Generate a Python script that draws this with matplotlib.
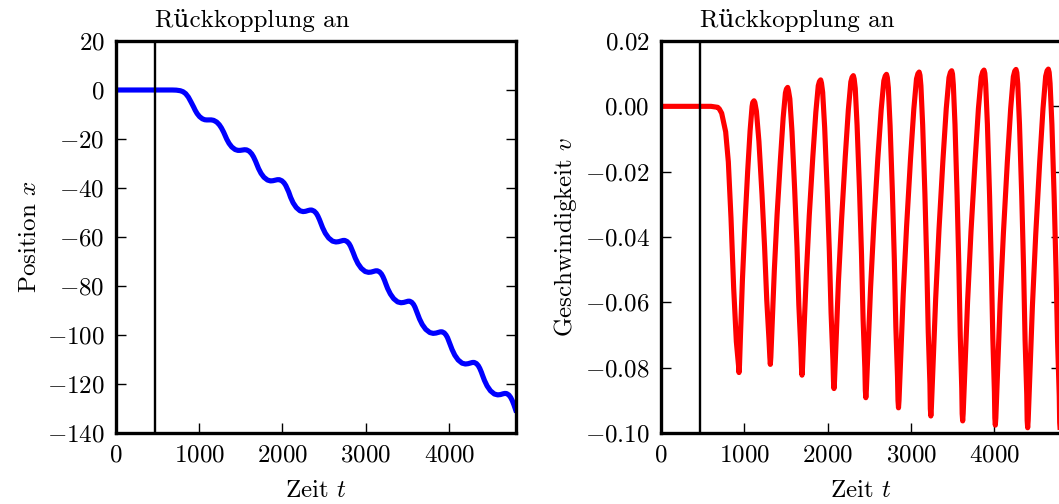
import numpy as np
import matplotlib
matplotlib.use("Agg")
import matplotlib.pyplot as plt
import matplotlib.transforms as mtransforms

plt.rcParams['font.family'] = ['cmr10', 'DejaVu Serif']
plt.rcParams['mathtext.fontset'] = 'cm'
plt.rcParams['axes.formatter.use_mathtext'] = True
plt.rcParams['axes.unicode_minus'] = True
plt.rcParams['font.size'] = 18

# Position x ueber der Zeit
t_pos = [0, 600, 680, 728, 776, 808, 840, 872, 904,
         936, 954, 977, 1006, 1040, 1069, 1093,
         1116, 1145, 1175, 1212, 1243, 1269, 1296,
         1312, 1333, 1360, 1393, 1433, 1466, 1493,
         1520, 1546, 1572, 1604, 1632, 1654, 1678,
         1692, 1714, 1744, 1779, 1822, 1858, 1887,
         1916, 1940, 1964, 1994, 2020, 2041, 2063,
         2076, 2099, 2129, 2167, 2211, 2248, 2278,
         2308, 2331, 2353, 2382, 2406, 2425, 2446,
         2458, 2483, 2515, 2555, 2602, 2642, 2674,
         2706, 2728, 2749, 2777, 2800, 2818, 2838,
         2850, 2875, 2907, 2947, 2994, 3034, 3066,
         3098, 3119, 3140, 3167, 3189, 3207, 3227,
         3238, 3263, 3296, 3336, 3383, 3423, 3456,
         3488, 3508, 3528, 3553, 3574, 3591, 3609,
         3620, 3646, 3679, 3720, 3769, 3809, 3843,
         3876, 3896, 3917, 3943, 3964, 3982, 4001,
         4012, 4037, 4069, 4109, 4156, 4196, 4228,
         4260, 4281, 4302, 4329, 4351, 4369, 4389,
         4400, 4425, 4457, 4497, 4544, 4584, 4616,
         4648, 4669, 4691, 4718, 4740, 4759, 4779,
         4790, 4800]
pos = [0, 0, 0, -0.06, -0.30, -0.70, -1.50, -2.90, -4.90,
       -7.00, -8.28, -9.62, -10.85, -11.76, -12.14, -12.22,
       -12.20, -12.20, -12.38, -13.08, -14.17, -15.50, -17.27,
       -18.47, -20.10, -21.78, -23.25, -24.30, -24.65, -24.64,
       -24.50, -24.38, -24.45, -25.03, -26.07, -27.30, -29.06,
       -30.24, -32.05, -34.02, -35.63, -36.76, -37.11, -37.02,
       -36.80, -36.61, -36.60, -37.06, -37.90, -38.99, -40.58,
       -41.61, -43.81, -46.05, -47.98, -49.29, -49.63, -49.51,
       -49.20, -49.01, -49.00, -49.46, -50.30, -51.39, -52.98,
       -54.01, -56.21, -58.45, -60.38, -61.69, -62.03, -61.91,
       -61.60, -61.41, -61.40, -61.86, -62.70, -63.79, -65.38,
       -66.41, -68.61, -70.85, -72.78, -74.09, -74.43, -74.31,
       -74.00, -73.81, -73.80, -74.26, -75.10, -76.19, -77.78,
       -78.81, -81.01, -83.25, -85.18, -86.49, -86.83, -86.71,
       -86.40, -86.21, -86.20, -86.66, -87.51, -88.61, -90.21,
       -91.25, -93.46, -95.73, -97.68, -98.99, -99.34, -99.21,
       -98.90, -98.71, -98.70, -99.16, -100.01, -101.11, -102.71,
       -103.75, -105.96, -108.23, -110.18, -111.49, -111.84, -111.71,
       -111.40, -111.21, -111.20, -111.66, -112.52, -113.63, -115.24,
       -116.29, -118.52, -120.80, -122.77, -124.09, -124.44, -124.32,
       -124.00, -123.85, -123.90, -124.50, -125.50, -126.80, -128.50,
       -129.60, -130.60]

# Geschwindigkeit v ueber der Zeit
t_vel = [0, 600, 680, 700, 728, 776, 808, 840, 872, 904, 930,
         936, 942, 954, 977, 1006, 1040, 1069, 1093, 1101, 1116, 1126,
         1145, 1175, 1212, 1243, 1269, 1296, 1306,
         1312, 1318, 1333, 1360, 1393, 1433, 1466, 1493, 1505, 1520, 1530,
         1546, 1572, 1604, 1632, 1654, 1678, 1686,
         1692, 1698, 1714, 1744, 1779, 1822, 1858, 1887, 1901, 1916, 1926,
         1940, 1964, 1994, 2020, 2041, 2063, 2070,
         2076, 2082, 2099, 2129, 2167, 2211, 2248, 2278, 2293, 2308, 2318,
         2331, 2353, 2382, 2406, 2425, 2446, 2452,
         2458, 2464, 2483, 2515, 2555, 2602, 2642, 2674, 2691, 2706, 2716,
         2728, 2749, 2777, 2800, 2818, 2838, 2844,
         2850, 2856, 2875, 2907, 2947, 2994, 3034, 3066, 3083, 3098, 3108,
         3119, 3140, 3167, 3189, 3207, 3227, 3232,
         3238, 3244, 3263, 3296, 3336, 3383, 3423, 3456, 3473, 3488, 3498,
         3508, 3528, 3553, 3574, 3591, 3609, 3614,
         3620, 3626, 3646, 3679, 3720, 3769, 3809, 3843, 3861, 3876, 3886,
         3896, 3917, 3943, 3964, 3982, 4001, 4006,
         4012, 4018, 4037, 4069, 4109, 4156, 4196, 4228, 4245, 4260, 4270,
         4281, 4302, 4329, 4351, 4369, 4389, 4394,
         4400, 4406, 4425, 4457, 4497, 4544, 4584, 4616, 4633, 4648, 4658,
         4669, 4691, 4718, 4740, 4759, 4779, 4784,
         4790, 4796, 4800]
vel = [0, 0, -0.0003, -0.0008, -0.0021, -0.0078, -0.0170, -0.0342, -0.0556, -0.0720, -0.0793,
       -0.0815, -0.0793, -0.0699, -0.0532, -0.0366, -0.0199, -0.0075, 0.0000, 0.0012, 0.0017, 0.0012,
       -0.0015, -0.0107, -0.0270, -0.0431, -0.0593, -0.0715, -0.0768,
       -0.0790, -0.0768, -0.0671, -0.0502, -0.0332, -0.0163, -0.0035, 0.0041, 0.0053, 0.0058, 0.0048,
       0.0023, -0.0078, -0.0255, -0.0431, -0.0608, -0.0741, -0.0801,
       -0.0823, -0.0801, -0.0696, -0.0516, -0.0335, -0.0154, -0.0018, 0.0063, 0.0076, 0.0081, 0.0071,
       0.0043, -0.0065, -0.0255, -0.0444, -0.0633, -0.0776, -0.0842,
       -0.0864, -0.0842, -0.0730, -0.0538, -0.0347, -0.0155, -0.0011, 0.0075, 0.0089, 0.0094, 0.0084,
       0.0055, -0.0058, -0.0256, -0.0453, -0.0651, -0.0800, -0.0870,
       -0.0892, -0.0870, -0.0753, -0.0555, -0.0357, -0.0159, -0.0011, 0.0078, 0.0093, 0.0098, 0.0088,
       0.0057, -0.0059, -0.0265, -0.0469, -0.0674, -0.0828, -0.0901,
       -0.0923, -0.0901, -0.0779, -0.0574, -0.0368, -0.0162, -0.0008, 0.0084, 0.0100, 0.0105, 0.0095,
       0.0063, -0.0057, -0.0269, -0.0479, -0.0691, -0.0850, -0.0926,
       -0.0948, -0.0926, -0.0800, -0.0589, -0.0377, -0.0166, -0.0007, 0.0088, 0.0104, 0.0109, 0.0099,
       0.0066, -0.0056, -0.0272, -0.0486, -0.0701, -0.0863, -0.0941,
       -0.0963, -0.0941, -0.0813, -0.0598, -0.0383, -0.0168, -0.0007, 0.0090, 0.0106, 0.0111, 0.0101,
       0.0068, -0.0056, -0.0275, -0.0492, -0.0711, -0.0875, -0.0954,
       -0.0976, -0.0954, -0.0824, -0.0606, -0.0388, -0.0170, -0.0007, 0.0091, 0.0108, 0.0113, 0.0103,
       0.0069, -0.0056, -0.0276, -0.0496, -0.0716, -0.0882, -0.0962,
       -0.0984, -0.0962, -0.0830, -0.0611, -0.0391, -0.0172, -0.0007, 0.0092, 0.0109, 0.0114, 0.0104,
       0.0070, -0.0056, -0.0278, -0.0499, -0.0721, -0.0887, -0.0968,
       -0.0990, -0.0968, -0.0955]

t_an = 470  # Rueckkopplung eingeschaltet

fig = plt.figure(figsize=(10.59, 5.04), dpi=100)
W, H = 1059., 504.
ax1 = fig.add_axes([115.7 / W, 71 / H, 400 / W, 392 / H])
ax2 = fig.add_axes([661 / W, 71 / H, 400 / W, 392 / H])

ax1.plot(t_pos, pos, color='b', lw=3.7, solid_joinstyle='round')
ax1.set_ylim(-140, 20)
ax1.set_yticks(np.arange(-140, 21, 20))
ax1.set_ylabel('Position $x$')

ax2.plot(t_vel, vel, color='r', lw=3.7, solid_joinstyle='round')
ax2.set_ylim(-0.10, 0.02)
ax2.set_yticks([-0.10, -0.08, -0.06, -0.04, -0.02, 0.00, 0.02])
ax2.set_ylabel('Geschwindigkeit $v$')

for ax in (ax1, ax2):
    ax.axvline(t_an, color='k', lw=1.7)
    ax.set_xlim(0, 4800)
    ax.set_xticks([0, 1000, 2000, 3000, 4000])
    ax.set_xlabel('Zeit $t$', labelpad=10)
    ax.tick_params(direction='in', length=7, width=1, top=False, right=True, pad=8)
    for s in ax.spines.values():
        s.set_linewidth(2.4)
    trans = mtransforms.blended_transform_factory(ax.transData, ax.transAxes)
    ax.text(t_an, 1.035, 'Rückkopplung an', transform=trans, ha='left', va='baseline')

fig.savefig('out.png', dpi=100)
